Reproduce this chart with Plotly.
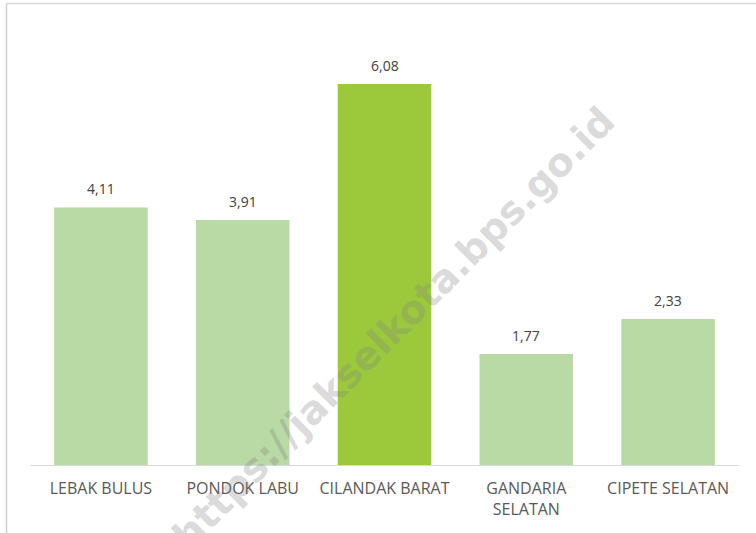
import plotly.graph_objects as go

categories = ["LEBAK BULUS", "PONDOK LABU", "CILANDAK BARAT", "GANDARIA<br>SELATAN", "CIPETE SELATAN"]
values = [4.11, 3.91, 6.08, 1.77, 2.33]
bar_colors = ["#B9DAA5", "#B9DAA5", "#9BC93B", "#B9DAA5", "#B9DAA5"]
watermark = "https://jakselkota.bps.go.id"

W, H = 756, 533
ml, mr, mt, mb = 30, 17, 27, 68
pw = W - ml - mr
ph = H - mt - mb

fig = go.Figure(go.Bar(x=categories, y=values, marker=dict(color=bar_colors, line=dict(width=0)),
                       hoverinfo="skip"))

annotations = []
for c, v in zip(categories, values):
    annotations.append(dict(x=c, y=v, xref="x", yref="y", text=f"{v:.2f}".replace(".", ","),
                            showarrow=False, yanchor="bottom", yshift=7,
                            font=dict(family="Open Sans", size=14, color="#404040")))

def px_x(px):
    return (px - ml) / pw

def px_y(py):
    return 1 - (py - mt) / ph

annotations.append(dict(x=px_x(393), y=px_y(328), xref="paper", yref="paper",
                        text=f"<b>{watermark}</b>", showarrow=False, textangle=-45,
                        font=dict(family="DejaVu Sans", size=39, color="rgba(128,128,128,0.3)"),
                        xanchor="center", yanchor="middle"))

shapes = [
    dict(type="line", xref="paper", yref="paper", x0=px_x(6.5), x1=px_x(6.5), y0=px_y(3.5), y1=px_y(540),
         line=dict(color="#D0D0D0", width=1.5)),
    dict(type="line", xref="paper", yref="paper", x0=px_x(6), x1=px_x(760), y0=px_y(3.5), y1=px_y(3.5),
         line=dict(color="#D9D9D9", width=1.5)),
]

fig.update_layout(
    width=W, height=H,
    margin=dict(l=ml, r=mr, t=mt, b=mb),
    paper_bgcolor="white", plot_bgcolor="white",
    bargap=0.34,
    showlegend=False,
    annotations=annotations,
    shapes=shapes,
    xaxis=dict(showline=True, linecolor="#D9D9D9", linewidth=1, ticks="", showgrid=False,
               ticklabelstandoff=9,
               tickfont=dict(family="Open Sans", size=16, color="#595959"), fixedrange=True),
    yaxis=dict(range=[0, 6.99], showticklabels=False, showgrid=False, zeroline=False, showline=False,
               ticks="", fixedrange=True),
)

fig.write_html("out.html", config=dict(displayModeBar=False),
               post_script="document.body.style.margin='0';document.body.style.overflow='hidden';")
